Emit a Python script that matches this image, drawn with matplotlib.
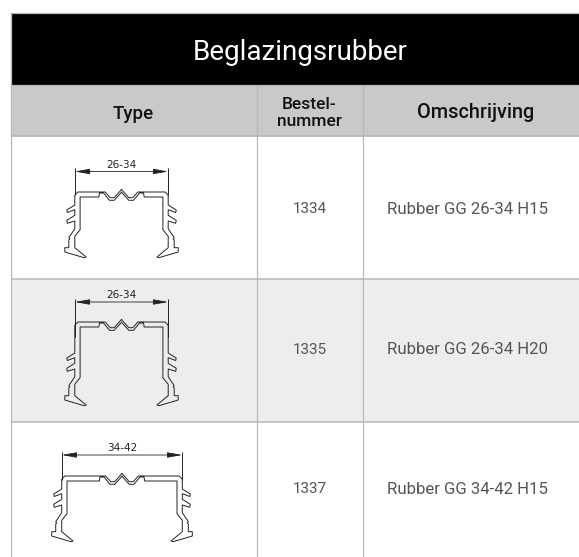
import matplotlib
matplotlib.use("Agg")
import matplotlib.pyplot as plt
from matplotlib.patches import Rectangle

# table content
title = "Beglazingsrubber"
col_labels = ["Type", "Bestel-\nnummer", "Omschrijving"]
order_numbers = ["1334", "1335", "1337"]
descriptions = ["Rubber GG 26-34 H15", "Rubber GG 26-34 H20", "Rubber GG 34-42 H15"]
dim_labels = ["26-34", "26-34", "34-42"]

# table grid in pixels
col_x = [10.5, 256.5, 362.5, 579]
row_y = [12.5, 85, 136, 279, 422, 557]
row_fill = ["white", "#eceeee", "white"]
text_y = [209, 350, 489]
LINE = "#b7b8b9"

# half of the rubber profile, offsets from the top edge
# top: dx from the centre line, dy below the top
top_dx = [0, 7.3, 11.3, 16.3]
top_dy = [-2.5, 5.7, 5.7, 0]
# side: inward offset from the outer wall, dy below the top
side_in = [3, 0, 0, -8, -7.5, 0, 0, -8, -7.5, 0, 0, -6, -5, -6, -6, -10, -10, 9.3, 11.3, 0, 0, 5.3, 5.3]
side_dy = [0, 3.3, 13, 18, 20.5, 17.7, 23.3, 28.3, 31.3, 29, 36.7, 45.7, 47, 48, 55.7, 55.7, 60, 65.7, 65, 55.7, 44.3, 37.7, 5]
# underside of the top, back to the centre line
under_dx = [22.7, 22, 18, 12, 7.3, 0]
under_dy = [5, 1, 1, 8.3, 8.3, 0.3]

# one profile per row
centre_x = [121.5, 121.5, 122]
half_width = [46.7, 46.7, 60.3]
dim_y = [171.5, 302, 455]
top_edge_y = [192, 322, 476]
leg_extra = [0, 18, 0]
ext_bottom = [195, 337, 480]


def profile_points(half, extra):
    xs = list(top_dx)
    ys = list(top_dy)
    for i, (inset, dy) in enumerate(zip(side_in, side_dy)):
        xs.append(half - inset)
        # the corner and the last point stay at the top, the rest moves down with the legs
        ys.append(dy + (extra if 2 <= i < len(side_dy) - 1 else 0))
    xs += under_dx
    ys += under_dy
    return xs, ys


plt.rcParams["font.family"] = ["Roboto", "DejaVu Sans"]

fig = plt.figure(figsize=(5.79, 5.57), dpi=100)
ax = fig.add_axes([0, 0, 1, 1])
ax.set_xlim(0, 579)
ax.set_ylim(557, 0)
ax.axis("off")

# bands
ax.add_patch(Rectangle((col_x[0], row_y[0]), 579 - col_x[0], row_y[1] - row_y[0], fc="black", ec="none"))
ax.add_patch(Rectangle((col_x[0], row_y[1]), 579 - col_x[0], row_y[2] - row_y[1], fc="#c8c9ca", ec="none"))
for i, fill in enumerate(row_fill):
    ax.add_patch(Rectangle((col_x[0], row_y[i + 2]), 579 - col_x[0], row_y[i + 3] - row_y[i + 2], fc=fill, ec="none"))

# grid lines
for y, lw in zip(row_y[:5], [0.9, 0.9, 1.3, 1.1, 1.1]):
    ax.plot([col_x[0], 579], [y, y], color=LINE, lw=lw, solid_capstyle="butt")
for x in col_x[:3]:
    start = row_y[0] if x == col_x[0] else row_y[1]
    ax.plot([x, x], [start, 557], color=LINE, lw=0.9, solid_capstyle="butt")

ax.text(300.5, 60, title, color="white", fontsize=20, ha="center", va="baseline")

col_centres = [133.5, 309.5, 475.5]
ax.text(col_centres[0], 119, col_labels[0], color="#111111", fontsize=13.5, fontweight="medium",
        ha="center", va="baseline")
ax.text(col_centres[1], 113, col_labels[1], color="#111111", fontsize=12.5, fontweight="medium",
        ha="center", va="center", linespacing=1.2)
ax.text(col_centres[2], 118.5, col_labels[2], color="#111111", fontsize=14.3, fontweight="medium",
        ha="center", va="baseline")

for i in range(3):
    ax.text(col_centres[1], text_y[i], order_numbers[i], color="#555555", fontsize=11, ha="center", va="center")
    ax.text(467.5, text_y[i], descriptions[i], color="#555555", fontsize=12.1, ha="center", va="center")

    # dimension and extension lines
    cx = centre_x[i]
    hw = half_width[i]
    for x in [cx - hw, cx + hw]:
        ax.plot([x, x], [dim_y[i] - 3.5, ext_bottom[i]], color="#222222", lw=0.7, solid_capstyle="butt")
    ax.annotate("", xy=(cx - hw, dim_y[i]), xytext=(cx + hw, dim_y[i]),
                arrowprops=dict(arrowstyle="<|-|>,head_length=1.0,head_width=0.18", color="#222222",
                                lw=0.6, mutation_scale=9, shrinkA=0, shrinkB=0))
    ax.text(cx, dim_y[i] - 7, dim_labels[i], color="#222222", fontsize=7.5,
            family=["Liberation Sans Narrow", "DejaVu Sans"], ha="center", va="center")

    # rubber profile, left and right half
    xs, ys = profile_points(hw, leg_extra[i])
    for sign in [-1, 1]:
        ax.plot([cx + sign * v for v in xs], [top_edge_y[i] + v for v in ys],
                color="#222222", lw=0.7, solid_joinstyle="round")

fig.savefig("out.png", dpi=100)
